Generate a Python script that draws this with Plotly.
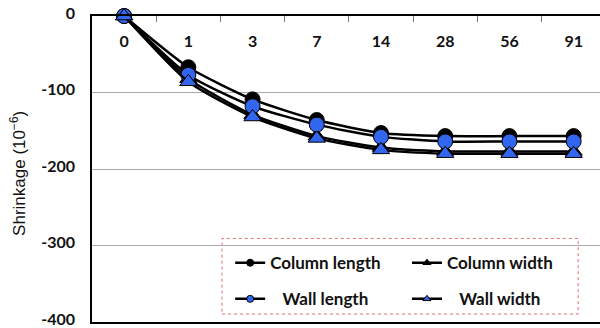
import plotly.graph_objects as go

days = ["0", "1", "3", "7", "14", "28", "56", "91"]
column_length = [0, -67, -109, -136, -153, -157, -157, -157]
wall_length = [0, -77, -118, -142, -158, -164, -164, -164]
column_width = [0, -82, -129, -157, -172, -177, -177, -177]
wall_width = [0, -86, -132, -160, -175, -180, -180, -180]
y_ticks = [0, -100, -200, -300, -400]

BLUE = "#3366ee"
FONT = "Lato"
NB = "\u00a0"

fig = go.Figure()

series = [
    ("Column length", "Column length", column_length, "circle", "black", "legend"),
    ("Column width", "Column width", column_width, "triangle-up", "black", "legend2"),
    ("Wall length", NB * 3 + "Wall length", wall_length, "circle", BLUE, "legend"),
    ("Wall width", NB * 3 + "Wall width", wall_width, "triangle-up", BLUE, "legend2"),
]
for name, label, vals, sym, col, leg in series:
    fig.add_trace(go.Scatter(
        x=days, y=vals, name=name, mode="lines+markers", showlegend=False,
        line=dict(color="black", width=2.5, shape="spline", smoothing=0.6),
        marker=dict(symbol=sym, size=15, color=col, line=dict(color="black", width=1)),
        cliponaxis=False,
    ))
for name, label, vals, sym, col, leg in series:
    fig.add_trace(go.Scatter(
        x=[None], y=[None], name=label, mode="lines+markers", legend=leg,
        legendgroup=name,
        line=dict(color="black", width=2.5),
        marker=dict(symbol=sym, size=7, color=col, line=dict(color="black", width=1)),
    ))

leg_common = dict(
    orientation="v", xanchor="left", yanchor="top", tracegroupgap=11,
    font=dict(family=FONT, size=17, color="#111", weight="bold"),
    bgcolor="rgba(0,0,0,0)", borderwidth=0, itemsizing="trace",
)
fig.update_layout(
    width=600, height=328,
    margin=dict(l=92, r=0, t=16, b=4),
    paper_bgcolor="white", plot_bgcolor="white",
    font=dict(family=FONT, color="#1a1a1a"),
    showlegend=True,
    legend=dict(x=0.272, y=0.251, **leg_common),
    legend2=dict(x=0.62, y=0.251, **leg_common),
    shapes=[dict(
        type="rect", xref="paper", yref="paper",
        x0=0.256, x1=0.957, y0=0.026, y1=0.273,
        line=dict(color="#e07070", width=1, dash="dot"),
        fillcolor="white", layer="below",
    )],
    annotations=[dict(
        text="Shrinkage (10<sup>\u22126</sup>)", textangle=-90,
        xref="paper", yref="paper", x=0, y=0.484, xanchor="center", yanchor="middle",
        xshift=-74, showarrow=False,
        font=dict(family="Liberation Sans", size=17, color="#111"),
    )],
)

fig.update_xaxes(
    type="category", side="top", range=[-0.5, 7.41],
    showline=True, linecolor="black", linewidth=2, mirror=True,
    ticks="inside", ticklen=6, tickcolor="#777", tickson="boundaries",
    ticklabelposition="inside", ticklabelstandoff=14, ticklabeloverflow="allow",
    tickfont=dict(family=FONT, size=16, color="#111", weight="bold"),
    showgrid=False, zeroline=False,
)
fig.update_yaxes(
    range=[-400, 0], tickvals=y_ticks, ticktext=[str(v) for v in y_ticks],
    showline=True, linecolor="black", linewidth=1.5,
    showgrid=True, gridcolor="#aaaaaa", gridwidth=1, zeroline=False,
    ticks="", ticklabelstandoff=12, ticklabeloverflow="allow", ticklabelshift=-3,
    tickfont=dict(family=FONT, size=16, color="#111", weight="bold"),
)

fig.write_html("out.html")
